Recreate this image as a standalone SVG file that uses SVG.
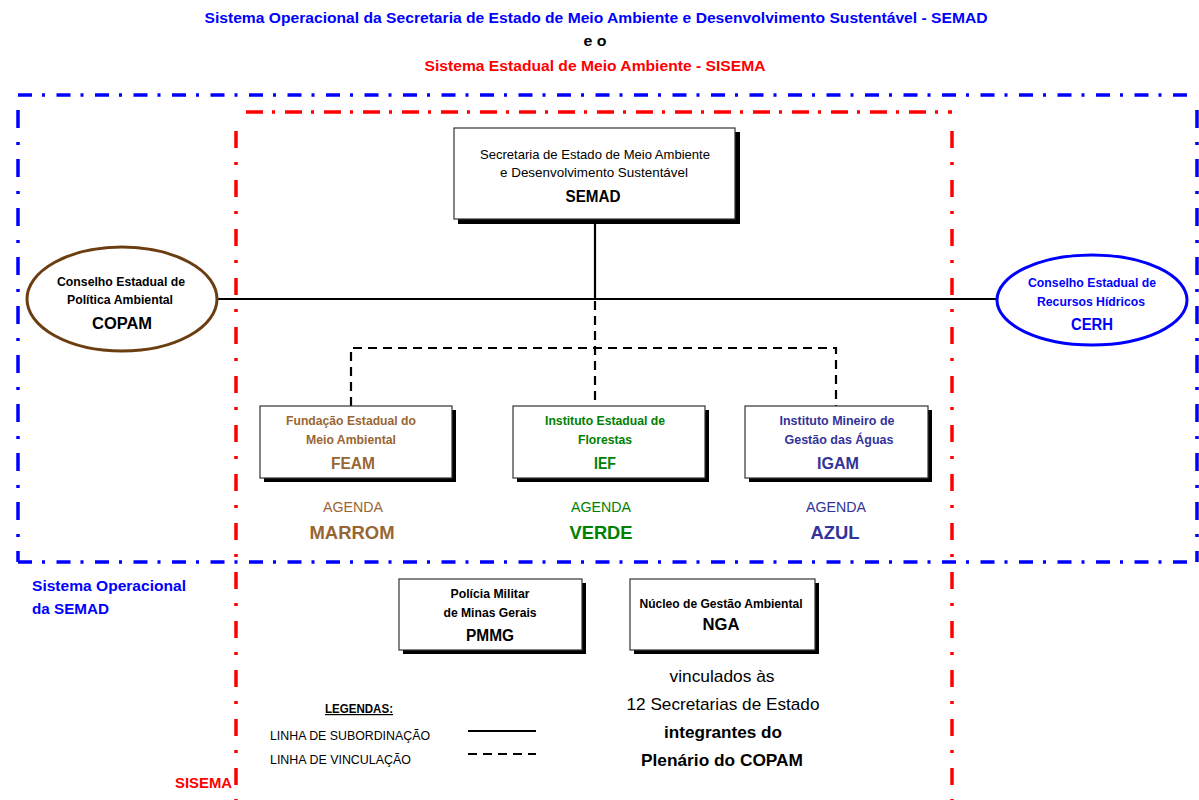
<svg xmlns="http://www.w3.org/2000/svg" width="1199" height="800" viewBox="0 0 1199 800">
<defs>
<style>
text{font-family:"Liberation Sans",Arial,sans-serif;}
.c{text-anchor:middle;}
.b{font-weight:bold;}
.box{fill:#fff;stroke:#333;stroke-width:1.2;}
.sh{fill:#000;}
.bh{stroke:#0000ff;stroke-width:3.5;fill:none;stroke-dasharray:14 10 3 11.5;}
.bv{stroke:#0000ff;stroke-width:3.5;fill:none;stroke-dasharray:18 14 3 14;}
.rh{stroke:#ff0000;stroke-width:3.5;fill:none;stroke-dasharray:17 9 3 10;}
.rv{stroke:#ff0000;stroke-width:3.5;fill:none;stroke-dasharray:17 14 3 15;}
.solid{stroke:#000;stroke-width:2.2;fill:none;}
.dash{stroke:#000;stroke-width:2.2;fill:none;stroke-dasharray:9 6;}
</style>
</defs>
<rect width="1199" height="800" fill="#fff"/>

<g id="titles">
<text class="c b" x="596" y="23" font-size="14" fill="#0000ff" textLength="783" lengthAdjust="spacingAndGlyphs">Sistema Operacional da Secretaria de Estado de Meio Ambiente e Desenvolvimento Sustentável - SEMAD</text>
<text class="c b" x="595" y="46" font-size="14" fill="#000" textLength="23" lengthAdjust="spacingAndGlyphs">e o</text>
<text class="c b" x="595" y="71" font-size="14" fill="#ff0000" textLength="341" lengthAdjust="spacingAndGlyphs">Sistema Estadual de Meio Ambiente - SISEMA</text>
</g>

<g id="boundaries">
<line class="bh" x1="18" y1="95" x2="1197" y2="95"/>
<line class="bh" x1="18" y1="562" x2="1197" y2="562"/>
<line class="bv" x1="18" y1="110" x2="18" y2="562"/>
<line class="bv" x1="1197" y1="110" x2="1197" y2="562"/>
<line class="rh" x1="246" y1="112" x2="952" y2="112"/>
<line class="rv" x1="236" y1="131" x2="236" y2="800"/>
<line class="rv" x1="952" y1="131" x2="952" y2="800"/>
<text class="b" x="32" y="591" font-size="15" fill="#0000ff" textLength="154" lengthAdjust="spacingAndGlyphs">Sistema Operacional</text>
<text class="b" x="32" y="614" font-size="15" fill="#0000ff" textLength="77" lengthAdjust="spacingAndGlyphs">da SEMAD</text>
<text class="b" x="175" y="788" font-size="15" fill="#ff0000" textLength="57" lengthAdjust="spacingAndGlyphs">SISEMA</text>
</g>

<g id="connectors">
<line class="solid" x1="595" y1="220" x2="595" y2="299"/>
<line class="solid" x1="216" y1="299" x2="997" y2="299"/>
<line class="dash" x1="595" y1="301" x2="595" y2="406"/>
<polyline class="dash" points="351,406 351,348 836,348 836,406"/>
</g>

<g id="semad">
<rect class="sh" x="458" y="132" width="282" height="92"/>
<rect class="box" x="454" y="128" width="281" height="91"/>
<text class="c" x="595" y="159" font-size="13" fill="#000" textLength="230" lengthAdjust="spacingAndGlyphs">Secretaria de Estado de Meio Ambiente</text>
<text class="c" x="594" y="177" font-size="13" fill="#000" textLength="188" lengthAdjust="spacingAndGlyphs">e Desenvolvimento Sustentável</text>
<text class="c b" x="593" y="202" font-size="16" fill="#000" textLength="55" lengthAdjust="spacingAndGlyphs">SEMAD</text>
</g>

<g id="copam">
<ellipse cx="122" cy="299" rx="95" ry="52" fill="#fff" stroke="#6b3e12" stroke-width="3"/>
<text class="c b" x="121" y="286" font-size="13" fill="#000" textLength="128" lengthAdjust="spacingAndGlyphs">Conselho Estadual de</text>
<text class="c b" x="120" y="304" font-size="13" fill="#000" textLength="106" lengthAdjust="spacingAndGlyphs">Política Ambiental</text>
<text class="c b" x="122" y="329" font-size="16" fill="#000" textLength="60" lengthAdjust="spacingAndGlyphs">COPAM</text>
</g>

<g id="cerh">
<ellipse cx="1092" cy="300" rx="95" ry="45" fill="#fff" stroke="#0000ff" stroke-width="3"/>
<text class="c b" x="1092" y="287" font-size="13" fill="#0000ff" textLength="128" lengthAdjust="spacingAndGlyphs">Conselho Estadual de</text>
<text class="c b" x="1091" y="306" font-size="13" fill="#0000ff" textLength="108" lengthAdjust="spacingAndGlyphs">Recursos Hídricos</text>
<text class="c b" x="1092" y="330" font-size="16" fill="#0000ff" textLength="42" lengthAdjust="spacingAndGlyphs">CERH</text>
</g>

<g id="feam">
<rect class="sh" x="264" y="410" width="192" height="72"/>
<rect class="box" x="260" y="406" width="192" height="72"/>
<text class="c b" x="351" y="425" font-size="13" fill="#996633" textLength="130" lengthAdjust="spacingAndGlyphs">Fundação Estadual do</text>
<text class="c b" x="351" y="444" font-size="13" fill="#996633" textLength="90" lengthAdjust="spacingAndGlyphs">Meio Ambiental</text>
<text class="c b" x="353" y="469" font-size="16" fill="#996633" textLength="44" lengthAdjust="spacingAndGlyphs">FEAM</text>
<text class="c" x="353" y="512" font-size="15" fill="#996633" textLength="60" lengthAdjust="spacingAndGlyphs">AGENDA</text>
<text class="c b" x="352" y="539" font-size="19" fill="#996633" textLength="85" lengthAdjust="spacingAndGlyphs">MARROM</text>
</g>

<g id="ief">
<rect class="sh" x="517" y="410" width="192" height="72"/>
<rect class="box" x="513" y="406" width="192" height="72"/>
<text class="c b" x="605" y="425" font-size="13" fill="#008000" textLength="120" lengthAdjust="spacingAndGlyphs">Instituto Estadual de</text>
<text class="c b" x="605" y="444" font-size="13" fill="#008000" textLength="54" lengthAdjust="spacingAndGlyphs">Florestas</text>
<text class="c b" x="605" y="469" font-size="16" fill="#008000" textLength="22" lengthAdjust="spacingAndGlyphs">IEF</text>
<text class="c" x="601" y="512" font-size="15" fill="#008000" textLength="60" lengthAdjust="spacingAndGlyphs">AGENDA</text>
<text class="c b" x="601" y="539" font-size="19" fill="#008000" textLength="63" lengthAdjust="spacingAndGlyphs">VERDE</text>
</g>

<g id="igam">
<rect class="sh" x="749" y="410" width="183" height="72"/>
<rect class="box" x="745" y="406" width="183" height="72"/>
<text class="c b" x="837" y="425" font-size="13" fill="#333399" textLength="115" lengthAdjust="spacingAndGlyphs">Instituto Mineiro de</text>
<text class="c b" x="839" y="444" font-size="13" fill="#333399" textLength="109" lengthAdjust="spacingAndGlyphs">Gestão das Águas</text>
<text class="c b" x="838" y="469" font-size="16" fill="#333399" textLength="42" lengthAdjust="spacingAndGlyphs">IGAM</text>
<text class="c" x="836" y="512" font-size="15" fill="#333399" textLength="60" lengthAdjust="spacingAndGlyphs">AGENDA</text>
<text class="c b" x="835" y="539" font-size="19" fill="#333399" textLength="49" lengthAdjust="spacingAndGlyphs">AZUL</text>
</g>

<g id="pmmg">
<rect class="sh" x="403" y="583" width="183" height="71"/>
<rect class="box" x="399" y="579" width="183" height="71"/>
<text class="c b" x="490" y="598" font-size="13" fill="#000" textLength="79" lengthAdjust="spacingAndGlyphs">Polícia Militar</text>
<text class="c b" x="490" y="617" font-size="13" fill="#000" textLength="93" lengthAdjust="spacingAndGlyphs">de Minas Gerais</text>
<text class="c b" x="490" y="641" font-size="16" fill="#000" textLength="48" lengthAdjust="spacingAndGlyphs">PMMG</text>
</g>

<g id="nga">
<rect class="sh" x="634" y="583" width="185" height="71"/>
<rect class="box" x="630" y="579" width="185" height="71"/>
<text class="c b" x="721" y="608" font-size="13" fill="#000" textLength="163" lengthAdjust="spacingAndGlyphs">Núcleo de Gestão Ambiental</text>
<text class="c b" x="721" y="630" font-size="16" fill="#000" textLength="37" lengthAdjust="spacingAndGlyphs">NGA</text>
<text class="c" x="722" y="682" font-size="17" fill="#000" textLength="105" lengthAdjust="spacingAndGlyphs">vinculados às</text>
<text class="c" x="723" y="710" font-size="17" fill="#000" textLength="193" lengthAdjust="spacingAndGlyphs">12 Secretarias de Estado</text>
<text class="c b" x="723" y="738" font-size="17" fill="#000" textLength="118" lengthAdjust="spacingAndGlyphs">integrantes do</text>
<text class="c b" x="722" y="766" font-size="17" fill="#000" textLength="162" lengthAdjust="spacingAndGlyphs">Plenário do COPAM</text>
</g>

<g id="legend">
<text class="b" x="325" y="713" font-size="12" fill="#000" text-decoration="underline" textLength="68" lengthAdjust="spacingAndGlyphs">LEGENDAS:</text>
<text x="270" y="740" font-size="12" fill="#000" textLength="160" lengthAdjust="spacingAndGlyphs">LINHA DE SUBORDINAÇÃO</text>
<text x="270" y="764" font-size="12" fill="#000" textLength="141" lengthAdjust="spacingAndGlyphs">LINHA DE VINCULAÇÃO</text>
<line class="solid" x1="468" y1="731" x2="536" y2="731"/>
<line class="dash" x1="468" y1="754" x2="536" y2="754"/>
</g>
</svg>
